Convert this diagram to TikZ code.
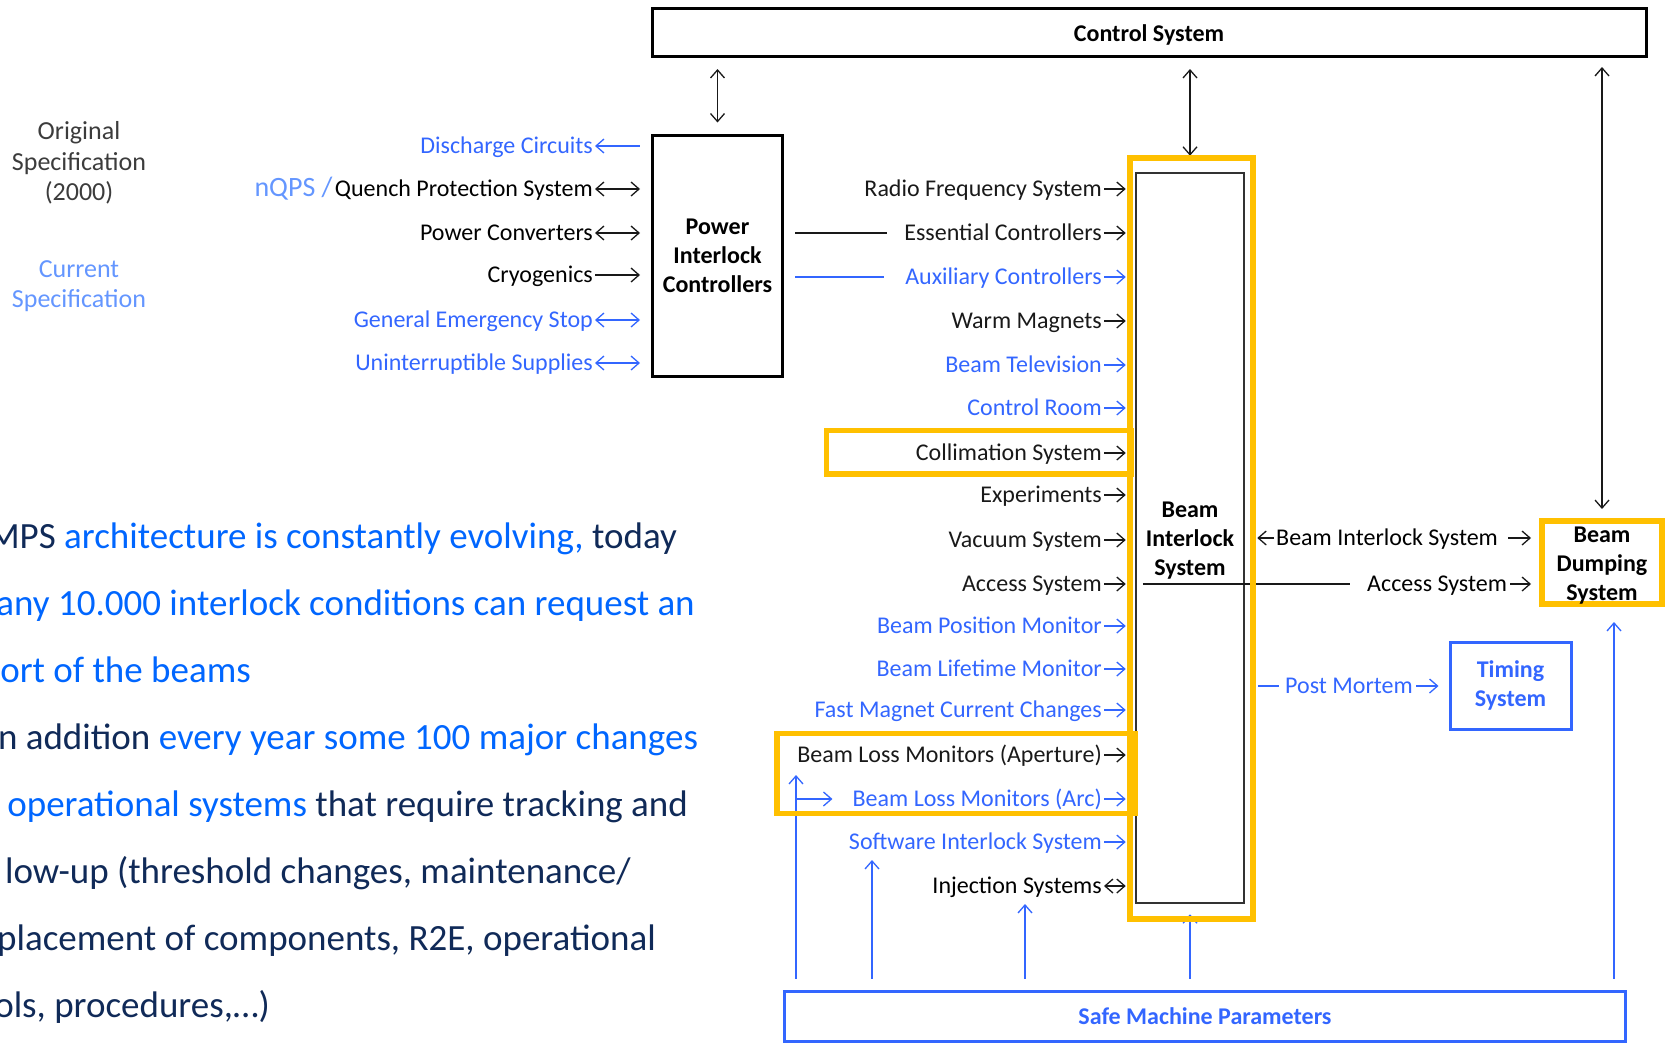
\documentclass[tikz,border=0pt]{standalone}
\usepackage{fontspec}
\setmainfont{Carlito}
\usetikzlibrary{arrows.meta}

\definecolor{sysblue}{RGB}{51,102,255}
\definecolor{sysblack}{RGB}{25,25,25}
\definecolor{hlyellow}{RGB}{255,192,0}
\definecolor{legblue}{RGB}{100,150,255}
\definecolor{leggrey}{RGB}{60,60,60}
\definecolor{txtblue}{RGB}{0,102,255}
\definecolor{txtnavy}{RGB}{16,42,88}
\definecolor{boxgrey}{RGB}{50,50,50}

\tikzset{
  >={Straight Barb[length=8pt,width=14pt]},
  sig/.style={font=\fontsize{24}{29}\selectfont, inner sep=0pt, text height=15pt, text depth=0pt},
  link/.style={line width=1.3pt, sysblack},
  boxtext/.style={inner sep=0pt, align=center, font=\bfseries\fontsize{24}{29}\selectfont},
  sysbox/.style={draw, line width=3pt, boxtext},
  hilite/.style={draw=hlyellow, line width=5.5pt},
  prose/.style={font=\fontsize{37}{44}\selectfont, inner sep=0pt, anchor=base east, text=txtnavy},
}

\begin{document}
\begin{tikzpicture}[x=1pt,y=-1pt]
\useasboundingbox (0,0) rectangle (1665,1042);

% running text on the left, cut by the page edge
\node[prose] (p1) at (677,548) {MPS \textcolor{txtblue}{architecture is constantly evolving,} today};
\node[prose, text=txtblue] (p2) at (695,615) {any 10.000 interlock conditions can request an};
\node[prose, text=txtblue] (p3) at (251,682) {ort of the beams};
\node[prose] (p4) at (698,749) {n addition \textcolor{txtblue}{every year some 100 major changes}};
\node[prose] (p5) at (688,816) {\textcolor{txtblue}{operational systems} that require tracking and};
\node[prose] (p6) at (631,883) {low-up (threshold changes, maintenance/};
\node[prose] (p7) at (656,950) {placement of components, R2E, operational};
\node[prose] (p8) at (270,1017) {ols, procedures,…)};

% legend
\node[font=\fontsize{26}{30.5}\selectfont, text=leggrey, align=center] (orig) at (79,163) {Original\\Specification\\(2000)};
\node[font=\fontsize{26}{30.5}\selectfont, text=legblue, align=center] (cur) at (79,286) {Current\\Specification};

% control system and power interlock controllers
\node[sysbox, text height=21pt, minimum width=994pt, minimum height=48pt] (ctrl) at (1149,32.5) {Control System};
\node[sysbox, minimum width=130pt, minimum height=241pt] (pic) at (717.5,255.5) {Power\\Interlock\\Controllers};
\draw[link, <->, shorten <=11pt, shorten >=11pt] (ctrl.south -| pic.north) -- (pic.north);

\node[sig, anchor=east, text=sysblue] (dc) at (593,146) {Discharge Circuits};
\node[sig, anchor=east] (qps) at (593,189) {Quench Protection System};
\node[sig, anchor=east, font=\fontsize{28}{32}\selectfont, text=legblue] (nqps) at ([xshift=-2pt]qps.west) {nQPS\ /};
\node[sig, anchor=east] (pc) at (593,233) {Power Converters};
\node[sig, anchor=east] (cryo) at (593,275) {Cryogenics};
\node[sig, anchor=east, text=sysblue] (ges) at (593,320) {General Emergency Stop};
\node[sig, anchor=east, text=sysblue] (ups) at (593,363) {Uninterruptible Supplies};

\draw[link, sysblue, <-, shorten <=2pt, shorten >=11pt] (dc.east) -- (dc.east -| pic.west);
\draw[link, <->, shorten <=2pt, shorten >=11pt] (qps.east) -- (qps.east -| pic.west);
\draw[link, <->, shorten <=2pt, shorten >=11pt] (pc.east) -- (pc.east -| pic.west);
\draw[link, ->, shorten <=2pt, shorten >=11pt] (cryo.east) -- (cryo.east -| pic.west);
\draw[link, sysblue, <->, shorten <=2pt, shorten >=11pt] (ges.east) -- (ges.east -| pic.west);
\draw[link, sysblue, <->, shorten <=2pt, shorten >=11pt] (ups.east) -- (ups.east -| pic.west);

% beam interlock system with its user inputs
\node[draw=boxgrey, line width=2.5pt, minimum width=108pt, minimum height=730pt, inner sep=0pt] (bis) at (1190,538) {};
\node[boxtext] (bistxt) at ([yshift=-3pt]bis.center) {Beam\\Interlock\\System};
\draw[link, <->, shorten <=11pt, shorten >=16pt] (ctrl.south -| bis.north) -- (bis.north);

\foreach \y/\txt/\col [count=\i] in {
  189/Radio Frequency System/sysblack,
  233/Essential Controllers/sysblack,
  277/Auxiliary Controllers/sysblue,
  321/Warm Magnets/sysblack,
  365/Beam Television/sysblue,
  408/Control Room/sysblue,
  453/Collimation System/sysblack,
  495/Experiments/sysblack,
  540/Vacuum System/sysblack,
  584/Access System/sysblack,
  626/Beam Position Monitor/sysblue,
  669/Beam Lifetime Monitor/sysblue,
  710/Fast Magnet Current Changes/sysblue,
  755/Beam Loss Monitors (Aperture)/sysblack,
  799/Beam Loss Monitors (Arc)/sysblue,
  842/Software Interlock System/sysblue}
{
  \node[sig, anchor=east, text=\col] (in\i) at (1102,\y) {\txt};
  \draw[link, ->, color=\col, shorten >=9pt] ([xshift=2pt]in\i.east) -- (in\i.east -| bis.west);
}
\node[sig, anchor=east] (in17) at (1102,886) {Injection Systems};
\draw[link, <->, shorten <=2pt, shorten >=9pt] (in17.east) -- (in17.east -| bis.west);

\draw[link, shorten <=11pt] (pic.east |- in2.west) -- ([xshift=-17pt]in2.west);
\draw[link, sysblue, shorten <=11pt] (pic.east |- in3.west) -- ([xshift=-21pt]in3.west);

% beam dumping system
\node[draw=hlyellow, line width=6pt, minimum width=120pt, minimum height=83pt, inner sep=0pt] (bds) at (1602,562.5) {};
\node[boxtext] (bdstxt) at ([yshift=-3pt]bds.center) {Beam\\Dumping\\System};
\draw[link, <->, shorten <=9pt, shorten >=9pt] (ctrl.south -| bds.north) -- (bds.north);

\node[sig, anchor=west] (bir) at (1276,538) {Beam Interlock System};
\draw[link, ->, shorten >=12pt] ([xshift=-2pt]bir.west) -- (bir.west -| bis.east);
\draw[link, ->, shorten <=10pt, shorten >=8pt] (bir.east) -- (bir.east -| bds.west);

\node[sig, anchor=west] (acr) at (1367,584) {Access System};
\draw[link] ([xshift=8pt]bis.west |- acr.west) -- ([xshift=-17pt]acr.west);
\draw[link, ->, shorten <=3pt, shorten >=8pt] (acr.east) -- (acr.east -| bds.west);

% timing
\node[sysbox, draw=sysblue, text=sysblue, minimum width=121pt, minimum height=87pt] (tim) at (1510.5,685.5) {Timing\\System};
\node[sig, anchor=west, text=sysblue] (pm) at (1285,686) {Post Mortem};
\draw[link, sysblue, shorten <=13pt] (bis.east |- pm.west) -- ([xshift=-6pt]pm.west);
\draw[link, sysblue, ->, shorten <=3pt, shorten >=10pt] (pm.east) -- (pm.east -| tim.west);

% safe machine parameters
\node[sysbox, draw=sysblue, text=sysblue, minimum width=841pt, minimum height=50pt] (smp) at (1205,1016) {Safe Machine Parameters};
\coordinate (blmup) at (796,775);
\coordinate (sisup) at (872,860);
\coordinate (injup) at (1025,904);
\coordinate (bdsup) at (1614,622);
\draw[link, sysblue, ->, shorten <=11pt] (smp.north -| blmup) -- (blmup);
\draw[link, sysblue, ->] (blmup |- in15.west) -- ([xshift=-20pt]in15.west);
\draw[link, sysblue, ->, shorten <=11pt] (smp.north -| sisup) -- (sisup);
\draw[link, sysblue, ->, shorten <=11pt] (smp.north -| injup) -- (injup);
\draw[link, sysblue, ->, shorten <=11pt] (smp.north -| bis.south) -- ([yshift=-10pt]bis.south);
\draw[link, sysblue, ->, shorten <=11pt] (smp.north -| bdsup) -- (bdsup);

% highlighted parts
\draw[hilite] (826.5,430.5) rectangle (1131,474);
\draw[hilite] (777,733.5) rectangle (1135,813.5);
\node[draw=hlyellow, line width=5.5pt, minimum width=123pt, minimum height=761pt, inner sep=0pt] (bisy) at (1191.5,538.5) {};
\end{tikzpicture}
\end{document}
